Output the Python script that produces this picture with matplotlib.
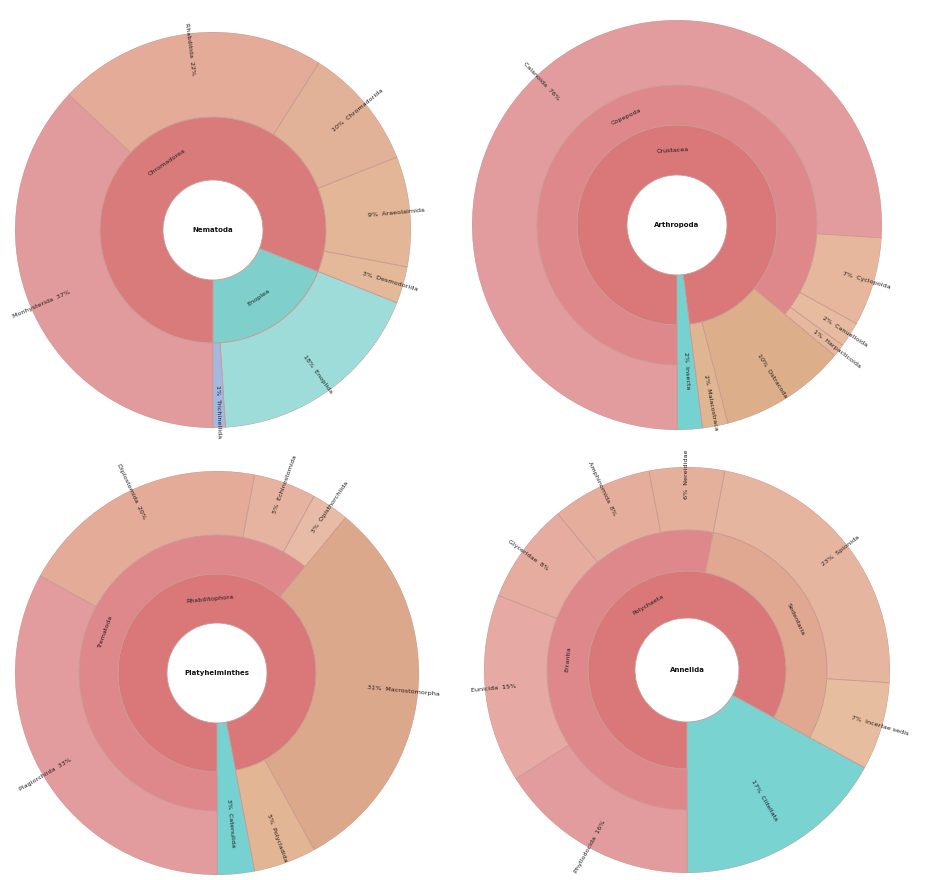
import numpy as np
import matplotlib
matplotlib.use("Agg")
import matplotlib.pyplot as plt

NEMA_CENTER = "Nematoda"
NEMA_CLASS = ["Chromadorea", "Enoplea"]
NEMA_CLASS_PCT = [81, 19]
NEMA_ORDER = ["Monhysterida", "Rhabditida", "Chromadorida", "Araeolaimida", "Desmodorida",
              "Enoplida", "Trichinellida"]
NEMA_ORDER_PCT = [37, 22, 10, 9, 3, 18, 1]

ARTH_CENTER = "Arthropoda"
ARTH_SUB = ["Crustacea", "Insecta"]
ARTH_SUB_PCT = [98, 2]
ARTH_CLASS = ["Copepoda", "Ostracoda", "Malacostraca"]
ARTH_CLASS_PCT = [86, 10, 2]
ARTH_ORDER = ["Calanoida", "Cyclopoida", "Canuelloida", "Harpacticoida"]
ARTH_ORDER_PCT = [76, 7, 2, 1]

PLAT_CENTER = "Platyhelminthes"
PLAT_CLASS = ["Rhabditophora", "Catenulida"]
PLAT_CLASS_PCT = [97, 3]
PLAT_SUB = ["Trematoda", "Macrostomorpha", "Polycladida"]
PLAT_SUB_PCT = [61, 31, 5]
PLAT_ORDER = ["Plagiorchiida", "Diplostomida", "Echinostomida", "Opisthorchiida"]
PLAT_ORDER_PCT = [33, 20, 5, 3]

ANNE_CENTER = "Annelida"
ANNE_CLASS = ["Polychaeta", "Clitellata"]
ANNE_CLASS_PCT = [83, 17]
ANNE_SUB = ["Errantia", "Sedentaria"]
ANNE_SUB_PCT = [53, 30]
ANNE_ORDER = ["Phyllodocida", "Eunicida", "Glyceridae", "Amphinomida", "Nereididae",
              "Spionida", "Incertae sedis"]
ANNE_ORDER_PCT = [16, 15, 8, 8, 6, 23, 7]

# ---- layout / styling (pixels of a 929x880 canvas) ----
W, H = 929, 880
EDGE = "#c99a92"
TXT = "#1e1e1e"

CHARTS = [
    dict(center=NEMA_CENTER, cx=213, cy=230, radii=[50, 113, 198],
         rings=[(NEMA_CLASS, NEMA_CLASS_PCT), (NEMA_ORDER, NEMA_ORDER_PCT)],
         colors=[["#d97a7b", "#7fd0cd"],
                 ["#e29b9c", "#e3ab98", "#e2b298", "#e2b697", "#e3b999", "#9edcd9", "#a4b8e2"]]),
    dict(center=ARTH_CENTER, cx=677, cy=225, radii=[50, 100, 140, 205],
         rings=[(ARTH_SUB, ARTH_SUB_PCT), (ARTH_CLASS, ARTH_CLASS_PCT), (ARTH_ORDER, ARTH_ORDER_PCT)],
         colors=[["#d97779", "#76d2d0"],
                 ["#de888b", "#dcae89", "#dfb592"],
                 ["#e39c9e", "#e6b79c", "#e7bb9f", "#e6b99e"]]),
    dict(center=PLAT_CENTER, cx=217, cy=673, radii=[50, 99, 138, 202],
         rings=[(PLAT_CLASS, PLAT_CLASS_PCT), (PLAT_SUB, PLAT_SUB_PCT), (PLAT_ORDER, PLAT_ORDER_PCT)],
         colors=[["#d97779", "#76d2d0"],
                 ["#de888b", "#dca88c", "#e2b595"],
                 ["#e39c9e", "#e4ab98", "#e6b3a0", "#e8bba6"]]),
    dict(center=ANNE_CENTER, cx=687, cy=670, radii=[52, 99, 140, 203],
         rings=[(ANNE_CLASS, ANNE_CLASS_PCT), (ANNE_SUB, ANNE_SUB_PCT), (ANNE_ORDER, ANNE_ORDER_PCT)],
         colors=[["#d97779", "#78d3d1"],
                 ["#de888b", "#e0a890"],
                 ["#e39c9e", "#e6a9a3", "#e6aca0", "#e5ae9c", "#e4b09b", "#e6b5a0", "#e6bd9e"]]),
]


def sunburst(ax, center, rings, radii, colors):
    ax.set_theta_zero_location("S")
    ax.set_theta_direction(-1)
    ax.set_ylim(0, radii[-1])
    ax.set_axis_off()
    n = len(rings)
    totals = [sum(p) for _, p in rings]
    for k, ((names, pcts), cols) in enumerate(zip(rings, colors)):
        start = 0
        for name, p, c in zip(names, pcts, cols):
            # a leaf keeps going outward while the next ring does not cover it
            k2 = k
            while k2 + 1 < n and start >= totals[k2 + 1] - 0.01:
                k2 += 1
            r0, r1 = radii[k], radii[k2 + 1]
            th0, dth = 2*np.pi*start/100, 2*np.pi*p/100
            ax.bar(th0 + dth/2, r1 - r0, width=dth, bottom=r0, color=c,
                   edgecolor=EDGE, linewidth=0.6)
            a = 270 - 360*(start + p/2)/100
            a = (a + 180) % 360 - 180
            rm = (r0 + r1)/2
            if k2 == n - 1:
                if -90 <= a <= 90:
                    s, rot, ha = f"{p}%  {name}", a, "left"
                else:
                    s, rot, ha = f"{name}  {p}%", a - 180, "right"
            else:
                s, rot, ha = name, (a - 90 if a > 0 else a + 90), "center"
            ax.text(th0 + dth/2, rm, s, rotation=rot, rotation_mode="anchor",
                    ha=ha, va="center", fontsize=4.6, color=TXT, clip_on=False)
            start += p
    ax.text(0, 0, center, ha="center", va="center", fontsize=5, fontweight="bold", color="#111")


fig = plt.figure(figsize=(W/100, H/100), dpi=100)
fig.patch.set_facecolor("white")
for ch in CHARTS:
    R = ch["radii"][-1]
    ax = fig.add_axes([(ch["cx"] - R)/W, (H - ch["cy"] - R)/H, 2*R/W, 2*R/H], projection="polar")
    sunburst(ax, ch["center"], ch["rings"], ch["radii"], ch["colors"])

fig.savefig("out.png", dpi=100, facecolor="white")
